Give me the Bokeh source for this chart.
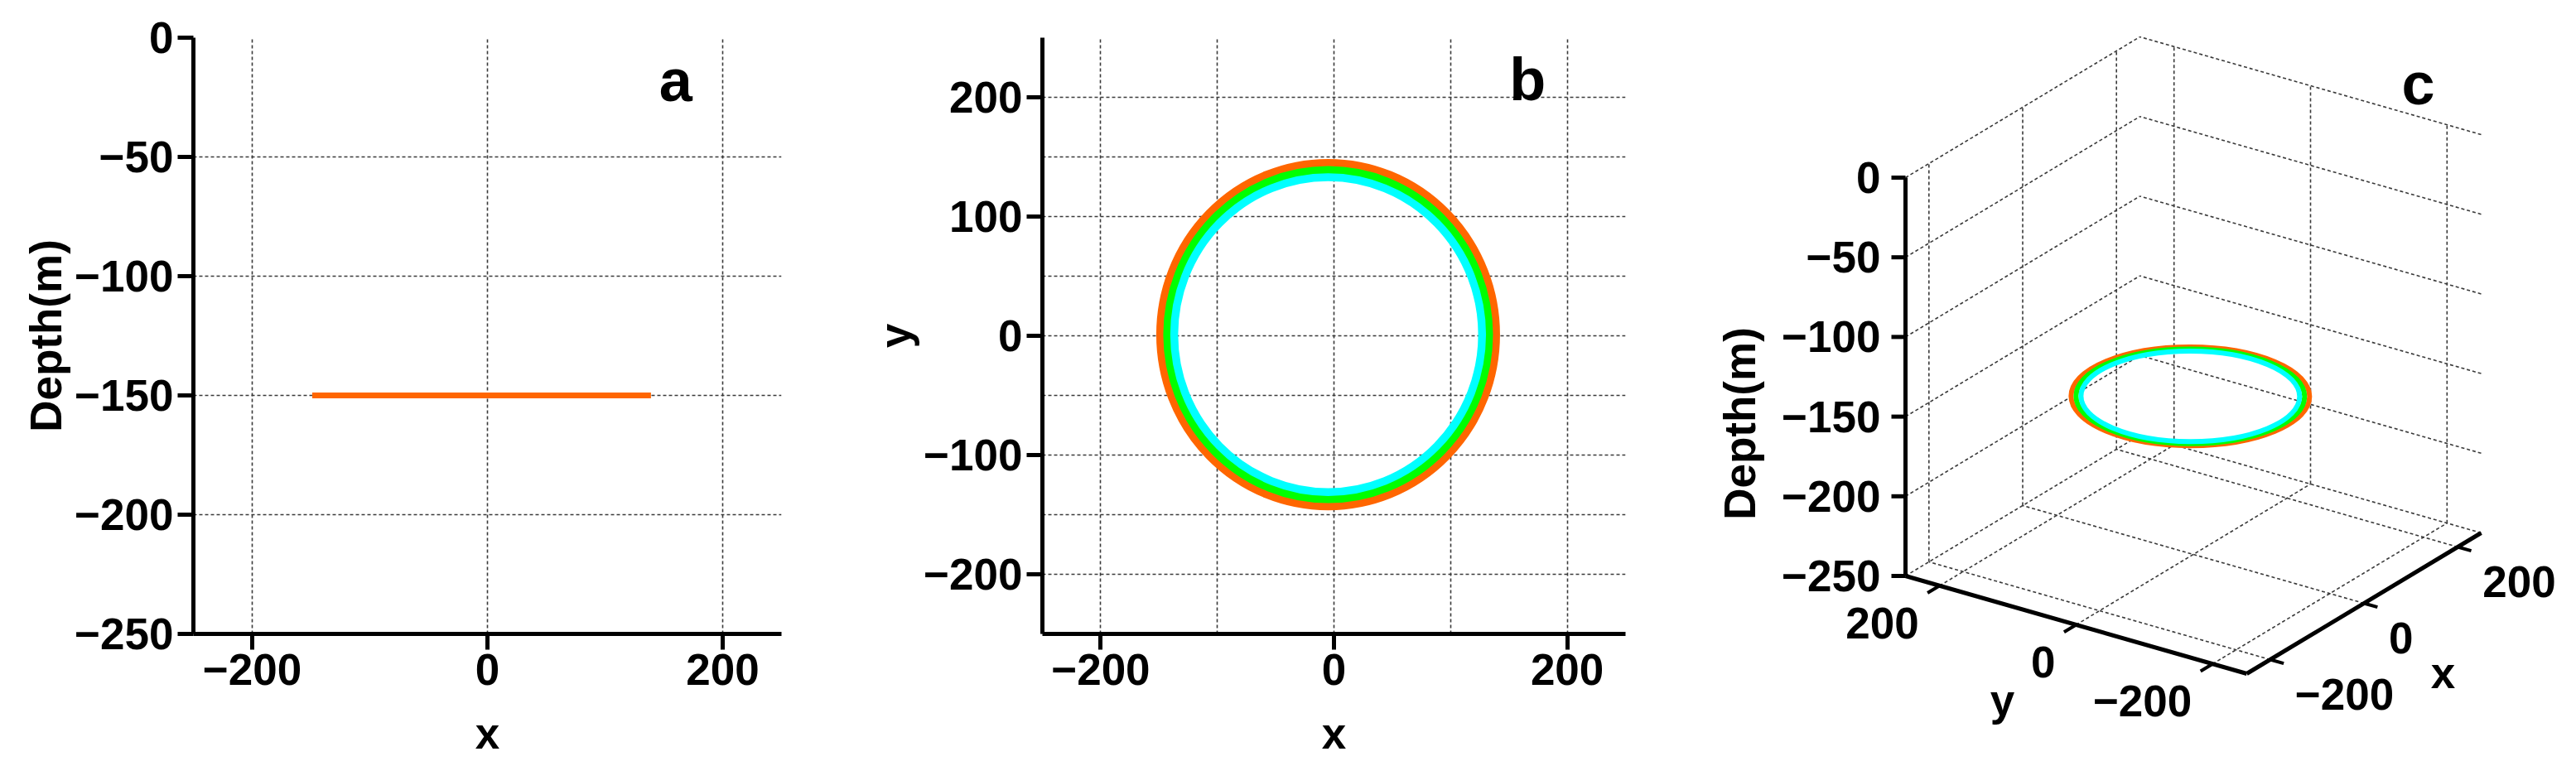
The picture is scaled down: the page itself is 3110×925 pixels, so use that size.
import numpy as np
from bokeh.plotting import figure
from bokeh.models import Range1d, FixedTicker
from bokeh.layouts import row
from bokeh.embed import file_html
from bokeh.resources import INLINE
from bokeh.core.properties import value

# ---------------- data ----------------
ring_color = ["#FF6600", "#00FF00", "#00FFFF"]
ring_radius = [144, 138, 132]
ring_cx = [-5, -5, -5]
ring_cy = [1, 1, 1]
ring_depth = [-150, -150, -150]

xy_ticks = [-200, 0, 200]
depth_ticks = [0, -50, -100, -150, -200, -250]
b_y_ticks = [-200, -100, 0, 100, 200]
b_grid_x = [-200, -100, 0, 100, 200]
b_grid_y = [-200, -150, -100, -50, 0, 50, 100, 150, 200, 250]
a_grid_y = [0, -50, -100, -150, -200]
xy_lim = [-250, 250]
depth_lim = [-250, 0]

FONT = "Liberation Sans"
FS = "53px"
GRID_COLOR = "#3a3a3a"
GRID_DASH = "4 3"
GRID_W = 1.6

H = 920
TOP = 45
FRAME_BOTTOM = 765
BOTTOM = H - FRAME_BOTTOM
LV = "overlay"


def lab(v):
    return str(v).replace("-", "\u2212")


def style(p, xt, yt, xg, yg, ylabel):
    p.outline_line_color = None
    p.xaxis.ticker = FixedTicker(ticks=xt)
    p.yaxis.ticker = FixedTicker(ticks=yt)
    p.xaxis.major_label_overrides = {t: lab(t) for t in xt}
    p.yaxis.major_label_overrides = {t: lab(t) for t in yt}
    p.xgrid.ticker = FixedTicker(ticks=xg)
    p.ygrid.ticker = FixedTicker(ticks=yg)
    for g in (p.xgrid[0], p.ygrid[0]):
        g.grid_line_color = GRID_COLOR
        g.grid_line_dash = GRID_DASH
        g.grid_line_width = GRID_W
    for ax in (p.xaxis[0], p.yaxis[0]):
        ax.axis_line_width = 5
        ax.axis_line_color = "black"
        ax.major_tick_line_width = 5
        ax.major_tick_out = 19
        ax.major_tick_in = 0
        ax.minor_tick_line_color = None
        ax.major_label_text_font = FONT
        ax.major_label_text_font_style = "bold"
        ax.major_label_text_font_size = FS
        ax.major_label_text_color = "black"
        ax.major_label_standoff = 5
        ax.axis_label_text_font = FONT
        ax.axis_label_text_font_style = "bold"
        ax.axis_label_text_font_size = FS
        ax.axis_label_text_color = "black"
    p.yaxis.axis_label_standoff = 2
    p.yaxis.axis_label = ylabel


def add_text(p, x, y, t, size=FS):
    p.text(x=[x], y=[y], text=[t], text_font=value(FONT), text_font_style="bold",
           text_font_size=size, text_align="center", text_baseline="middle",
           text_color="black", level=LV)


def page_to_data_y(page_y, lim):
    # linear map of a page row to data y for a frame spanning TOP..FRAME_BOTTOM
    return lim[1] - (page_y - TOP) * (lim[1] - lim[0]) / (FRAME_BOTTOM - TOP)


# ---------------- panel a ----------------
pa = figure(width=1000, height=H, x_range=Range1d(*xy_lim), y_range=Range1d(*depth_lim),
            output_backend="svg", toolbar_location=None,
            min_border_left=233, min_border_right=57, min_border_top=TOP, min_border_bottom=BOTTOM)
style(pa, xy_ticks, depth_ticks, xy_ticks, a_grid_y, "Depth(m)")
for i in reversed(range(len(ring_radius))):
    pa.segment(x0=[ring_cx[i] - ring_radius[i]], x1=[ring_cx[i] + ring_radius[i]],
               y0=[ring_depth[i]], y1=[ring_depth[i]],
               line_color=ring_color[i], line_width=7)
add_text(pa, 160, page_to_data_y(96, depth_lim), "a", size="72px")
add_text(pa, 0, page_to_data_y(885, depth_lim), "x")

# ---------------- panel b ----------------
pb = figure(width=1010, height=H, x_range=Range1d(*xy_lim), y_range=Range1d(*xy_lim),
            output_backend="svg", toolbar_location=None,
            min_border_left=258, min_border_right=48, min_border_top=TOP, min_border_bottom=BOTTOM)
style(pb, xy_ticks, b_y_ticks, b_grid_x, b_grid_y, "y")
for i in range(len(ring_radius)):
    pb.ellipse(x=[ring_cx[i]], y=[ring_cy[i]], width=[2 * ring_radius[i]],
               height=[2 * ring_radius[i]], fill_color=None,
               line_color=ring_color[i], line_width=9.5)
add_text(pb, 166, page_to_data_y(95, xy_lim), "b", size="72px")
add_text(pb, 0, page_to_data_y(885, xy_lim), "x")

# ---------------- panel c (3-D box, projected to page pixels) ----------------
X0, X1 = 2010, 3110          # page pixel span of this figure
OX, OY = 2647.5, 188.0       # page position of (0,0,0)
AX = (0.566, -0.34)          # page shift per unit x
AY = (-0.824, -0.236)        # page shift per unit y
AZ = -1.924                  # page shift (vertical) per unit depth


def proj(x, y, z):
    px = OX + x * AX[0] + y * AY[0]
    py = OY + x * AX[1] + y * AY[1] + z * AZ
    return px, -py           # figure y = -page y


pc = figure(width=X1 - X0, height=H,
            x_range=Range1d(X0, X1), y_range=Range1d(-FRAME_BOTTOM, -TOP),
            output_backend="svg", toolbar_location=None,
            x_axis_location=None, y_axis_location=None,
            min_border_left=0, min_border_right=0, min_border_top=TOP, min_border_bottom=BOTTOM)
pc.outline_line_color = None
pc.grid.visible = False

lo, hi = xy_lim
zlo, zhi = depth_lim
segs = []
for z in depth_ticks:
    segs.append(((lo, hi, z), (hi, hi, z)))      # wall y = max
    segs.append(((hi, lo, z), (hi, hi, z)))      # wall x = max
for t in xy_ticks:
    segs.append(((t, hi, zlo), (t, hi, zhi)))    # verticals on wall y = max
    segs.append(((hi, t, zlo), (hi, t, zhi)))    # verticals on wall x = max
    segs.append(((t, lo, zlo), (t, hi, zlo)))    # floor lines, constant x
    segs.append(((lo, t, zlo), (hi, t, zlo)))    # floor lines, constant y
gx, gy = [], []
for a, b in segs:
    p0, p1 = proj(*a), proj(*b)
    gx.append([p0[0], p1[0]])
    gy.append([p0[1], p1[1]])
pc.multi_line(gx, gy, line_color=GRID_COLOR, line_dash=GRID_DASH, line_width=GRID_W, level=LV)

# ring (projected circle -> ellipse)
M = np.array([[AX[0], AY[0]], [-AX[1], -AY[1]]])
U, S, Vt = np.linalg.svd(M)
ang = float(np.arctan2(U[1, 0], U[0, 0]))
for i in range(len(ring_radius)):
    cx, cy = proj(ring_cx[i], ring_cy[i], ring_depth[i])
    pc.ellipse(x=[cx], y=[cy], width=[2 * ring_radius[i] * S[0]],
               height=[2 * ring_radius[i] * S[1]], angle=ang,
               fill_color=None, line_color=ring_color[i], line_width=6, level=LV)

# axes
ax_segs = [((lo, hi, zlo), (lo, hi, zhi)),
           ((lo, hi, zlo), (lo, lo, zlo)),
           ((lo, lo, zlo), (hi, lo, zlo))]
axx, axy = [], []
for a, b in ax_segs:
    p0, p1 = proj(*a), proj(*b)
    axx.append([p0[0], p1[0]])
    axy.append([p0[1], p1[1]])
pc.multi_line(axx, axy, line_color="black", line_width=5, level=LV)

TL = 17
TXT = dict(text_font=value(FONT), text_font_style="bold", text_font_size=FS,
           text_color="black", level=LV)

# depth ticks
tx, ty = [], []
for z in depth_ticks:
    px, py = proj(lo, hi, z)
    tx.append([px, px - TL]); ty.append([py, py])
pc.multi_line(tx, ty, line_color="black", line_width=5, level=LV)
pc.text(x=[proj(lo, hi, z)[0] - 30 for z in depth_ticks],
        y=[proj(lo, hi, z)[1] for z in depth_ticks],
        text=[lab(z) for z in depth_ticks], text_align="right", text_baseline="middle", **TXT)

# y ticks (along x = min); tick direction = -x
dxn = np.array([-AX[0], AX[1]]) / np.hypot(*AX)
tx, ty = [], []
for t in xy_ticks:
    px, py = proj(lo, t, zlo)
    tx.append([px, px + TL * dxn[0]]); ty.append([py, py + TL * dxn[1]])
pc.multi_line(tx, ty, line_color="black", line_width=4, level=LV)
pc.text(x=[proj(lo, t, zlo)[0] - 25 for t in xy_ticks],
        y=[proj(lo, t, zlo)[1] - 45 for t in xy_ticks],
        text=[lab(t) for t in xy_ticks], text_align="right", text_baseline="middle", **TXT)

# x ticks (along y = min); tick direction = -y
dyn = np.array([-AY[0], AY[1]]) / np.hypot(*AY)
tx, ty = [], []
for t in xy_ticks:
    px, py = proj(t, lo, zlo)
    tx.append([px, px + TL * dyn[0]]); ty.append([py, py + TL * dyn[1]])
pc.multi_line(tx, ty, line_color="black", line_width=4, level=LV)
pc.text(x=[proj(t, lo, zlo)[0] + 30 for t in xy_ticks],
        y=[proj(t, lo, zlo)[1] - 42 for t in xy_ticks],
        text=[lab(t) for t in xy_ticks], text_align="left", text_baseline="middle", **TXT)

# axis titles and panel letter
pc.text(x=[2100], y=[-511], text=["Depth(m)"], angle=np.pi / 2,
        text_align="center", text_baseline="middle", **TXT)
pc.text(x=[2417], y=[-845], text=["y"], text_align="center", text_baseline="middle", **TXT)
pc.text(x=[2949], y=[-812], text=["x"], text_align="center", text_baseline="middle", **TXT)
pc.text(x=[2919], y=[-100], text=["c"], text_font=value(FONT), text_font_style="bold",
        text_font_size="72px", text_color="black", level=LV,
        text_align="center", text_baseline="middle")

layout = row(pa, pb, pc, spacing=0)
open("out.html", "w").write(file_html(layout, INLINE))
